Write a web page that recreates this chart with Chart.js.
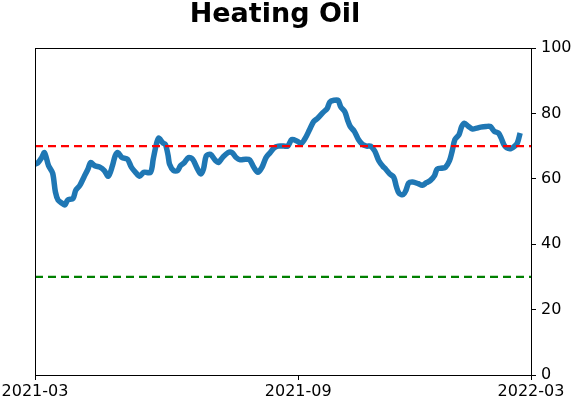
<!DOCTYPE html>
<html>
<head>
<meta charset="utf-8">
<script src="https://cdn.jsdelivr.net/npm/chart.js@4/dist/chart.umd.min.js"></script>
<style>
html,body{margin:0;padding:0;background:#fff;}
#c{display:block;}
</style>
</head>
<body>
<canvas id="c" width="572" height="402"></canvas>
<script>
// Days since start of window and indicator values
const days = [0,2,5,7,10,13,15,17,20,22,24,28,30,33,36,39,41,44,48,51,54,57,59,61,64,68,71,74,77,80,85,87,89,91,94,96,98,99,102,105,107,110,113,116,119,122,124,126,129,133,135,138,142,145,148,151,155,158,161,164,167,170,173,176,179,183,186,189,193,196,199,202,205,208,212,215,217,220,223,225,228,230,232,235,238,241,244,247,250,253,256,258,261,264,266,268,271,273,275,278,282,285,288,291,294,296,300,302,305,307,309,312,314,316,319,322,325,328,332,335,338,341,343,345,347,350,353,355,357];
const values = [64.5,64.8,66.5,68,64,61.7,56,53.5,52.5,52,53.5,54,56.5,58,60.5,63,65,64,63.5,62.5,60.8,64,67,68,66.5,66,63.5,62,60.8,62,62,66,70,72.5,71,70.5,67,64.5,62.5,62.5,64,65,66.5,66,63.5,61.5,63,67,67.5,65.5,65,66.5,68,68,66.5,65.8,66,65.8,63.5,62,63.5,66.5,68,69.5,70,70,70,72,71.5,70.8,72.5,75,77.5,78.5,80.3,81.5,83.5,84,84,82,80.5,78,76,74.5,72,70.5,70,70,68.5,65.5,63.8,63,61.5,60.5,57.5,55.5,55.2,56.5,58.7,59,58.5,58,58.8,59.5,61,63,63.3,63.5,65.5,68.5,72,73.5,76,77,76,75.2,75.5,75.8,76,76,74.5,74,72.5,70.5,69.5,69.2,70,71,74];
const upperLevel = 70;
const lowerLevel = 30;
const xRange = [0, 365];
const tickDays = [0, 193.7, 365];
const tickLabels = ["2021-03", "2021-09", "2022-03"];
const yTicks = [0, 20, 40, 60, 80, 100];
const titleText = "Heating Oil";

const series = days.map((d, i) => ({x: d, y: values[i]}));

const framePlugin = {
  id: 'frame',
  afterDraw(chart) {
    const {ctx, chartArea: a} = chart;
    ctx.save();
    ctx.strokeStyle = '#000';
    ctx.lineWidth = 1;
    ctx.strokeRect(Math.round(a.left) + 0.5, Math.round(a.top) + 0.5, Math.round(a.right - a.left), Math.round(a.bottom - a.top));
    ctx.fillStyle = '#000';
    ctx.font = 'bold 27px "DejaVu Sans"';
    ctx.textAlign = 'center';
    ctx.textBaseline = 'alphabetic';
    ctx.fillText(titleText, (a.left + a.right) / 2 - 8, 22);
    ctx.restore();
  }
};

new Chart(document.getElementById('c'), {
  type: 'line',
  data: {
    datasets: [
      {data: xRange.map(x => ({x, y: upperLevel})), borderColor: '#ff0000', borderWidth: 2.2, borderDash: [8, 5], pointRadius: 0, tension: 0},
      {data: xRange.map(x => ({x, y: lowerLevel})), borderColor: '#008000', borderWidth: 2.2, borderDash: [8, 5], pointRadius: 0, tension: 0},
      {data: series, borderColor: '#1f77b4', borderWidth: 5.5, pointRadius: 0, tension: 0.3, borderJoinStyle: 'round', borderCapStyle: 'butt'}
    ]
  },
  options: {
    responsive: false,
    animation: false,
    devicePixelRatio: 1,
    layout: {padding: {left: 35, top: 48, right: 0, bottom: 0}},
    plugins: {legend: {display: false}, tooltip: {enabled: false}, title: {display: false}},
    scales: {
      x: {
        type: 'linear',
        min: xRange[0], max: xRange[1],
        afterBuildTicks: s => { s.ticks = tickDays.map(v => ({value: v})); },
        afterFit: s => { s.height = 27; s.paddingLeft = 0; s.paddingRight = 0; },
        grid: {display: true, drawOnChartArea: false, drawTicks: true, tickLength: 5, color: '#000'},
        border: {display: true, color: '#000'},
        ticks: {
          autoSkip: false, maxRotation: 0, minRotation: 0, padding: 2,
          color: '#000', font: {family: 'DejaVu Sans', size: 16},
          callback: (v) => { const i = tickDays.indexOf(v); return i >= 0 ? tickLabels[i] : ''; }
        }
      },
      y: {
        position: 'right',
        min: 0, max: 100,
        afterBuildTicks: s => { s.ticks = yTicks.map(v => ({value: v})); },
        afterFit: s => { s.width = 41; s.paddingTop = 0; s.paddingBottom = 0; },
        grid: {display: true, drawOnChartArea: false, drawTicks: true, tickLength: 5, color: '#000'},
        border: {display: true, color: '#000'},
        ticks: {padding: 5, color: '#000', font: {family: 'DejaVu Sans', size: 16}}
      }
    }
  },
  plugins: [framePlugin]
});
</script>
</body>
</html>
